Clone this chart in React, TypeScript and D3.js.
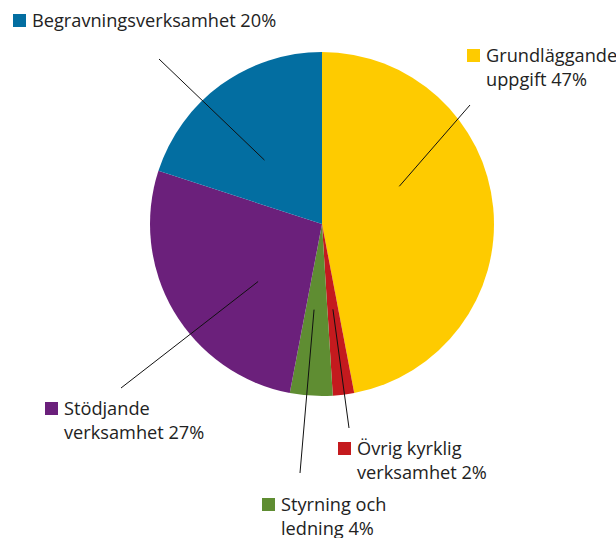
import React from "react";
import * as d3 from "d3";

const categories = [
  "Grundläggande uppgift",
  "Övrig kyrklig verksamhet",
  "Styrning och ledning",
  "Stödjande verksamhet",
  "Begravningsverksamhet",
];
const values = [47, 2, 4, 27, 20];
const colors = ["#fecb00", "#c41a1e", "#5f8d32", "#6b207b", "#036ea1"];
const labelLines = [
  ["Grundläggande", "uppgift 47%"],
  ["Övrig kyrklig", "verksamhet 2%"],
  ["Styrning och", "ledning 4%"],
  ["Stödjande", "verksamhet 27%"],
  ["Begravningsverksamhet 20%"],
];

// layout: label square position, leader outer point, leader inner angle (deg)
const layout = [
  { sx: 467, sy: 49, ox: 470, oy: 105, ang: 64 },
  { sx: 338, sy: 442, ox: 349, oy: 428, ang: 172.7 },
  { sx: 262, sy: 498, ox: 300, oy: 473, ang: 185.3 },
  { sx: 45, sy: 402, ox: 121, oy: 388, ang: 228 },
  { sx: 13, sy: 14, ox: 159, oy: 59, ang: 318 },
];

export default function App() {
  const W = 616, H = 538;
  const cx = 322, cy = 224, R = 172;
  const pie = d3.pie<number>().sort(null).value((d) => d)(values);
  const arc = d3.arc<d3.PieArcDatum<number>>().innerRadius(0).outerRadius(R);
  const font = "'Open Sans', sans-serif";
  return (
    <svg width={W} height={H} style={{ position: "absolute", left: 0, top: 0 }}>
      <g transform={`translate(${cx},${cy})`}>
        {pie.map((p, i) => (
          <path key={categories[i]} d={arc(p) || ""} fill={colors[i]} />
        ))}
      </g>
      {layout.map((l, i) => {
        const a = (l.ang * Math.PI) / 180;
        const ix = cx + Math.sin(a) * R * 0.5;
        const iy = cy - Math.cos(a) * R * 0.5;
        return (
          <line key={"l" + i} x1={l.ox} y1={l.oy} x2={ix} y2={iy} stroke="#111" strokeWidth={1} />
        );
      })}
      {layout.map((l, i) => (
        <g key={"t" + i}>
          <rect x={l.sx} y={l.sy} width={13} height={13} fill={colors[i]} />
          {labelLines[i].map((t, j) => (
            <text
              key={j}
              x={l.sx + 19}
              y={l.sy + 13 + j * 24}
              fontFamily={font}
              fontSize={18.2}
              fill="#222"
            >
              {t}
            </text>
          ))}
        </g>
      ))}
    </svg>
  );
}
